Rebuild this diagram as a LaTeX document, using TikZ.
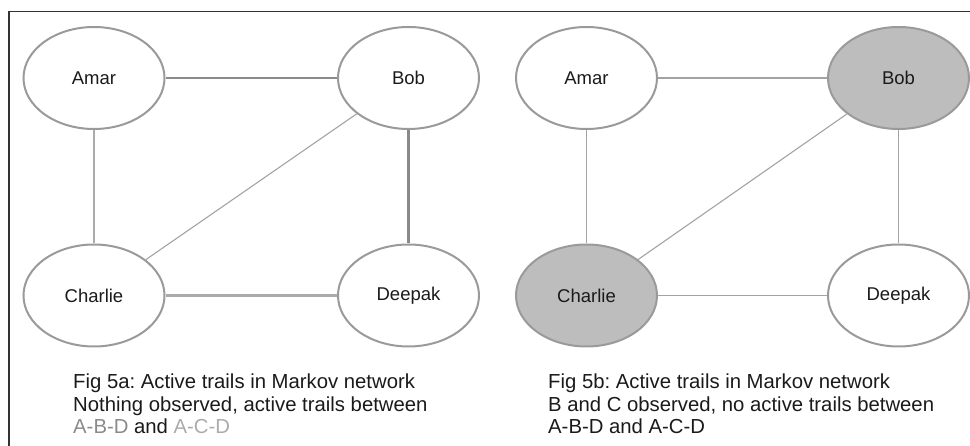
\documentclass[tikz,border=0pt]{standalone}
\usepackage{fontspec}
\setmainfont{Liberation Sans}
\usetikzlibrary{shapes.geometric}
\definecolor{nodeline}{HTML}{9A9A9A}
\definecolor{obsfill}{HTML}{BDBDBD}
\definecolor{trailB}{HTML}{8A8A8A}
\definecolor{trailC}{HTML}{ABABAB}
\definecolor{thinedge}{HTML}{A3A3A3}
\definecolor{txt}{HTML}{1A1A1A}
\frenchspacing
\tikzset{
  person/.style={ellipse, draw=nodeline, line width=2pt, fill=white,
    minimum width=141pt, minimum height=102pt, inner sep=0pt,
    font=\fontsize{18.5}{20}\selectfont, text=txt},
  observed/.style={person, fill=obsfill},
  thickB/.style={draw=trailB, line width=2.6pt},
  thickC/.style={draw=trailC, line width=2.2pt},
  thin/.style={draw=thinedge, line width=1.1pt},
  caption/.style={anchor=base west, inner sep=0pt, text=txt,
    font=\fontsize{20.3}{22}\selectfont},
  frame/.style={draw=black!80, line width=1.2pt}
}
\begin{document}
\begin{tikzpicture}[x=1pt,y=-1pt]
\useasboundingbox (0,0) rectangle (970,446);
\coordinate (fbl) at (9,446);
\coordinate (ftl) at (9,11.5);
\coordinate (ftr) at (970,11.5);
\draw[frame] (fbl) -- (ftl) -- (ftr);

% Panel a
\node[person] (a1) at (94,78) {Amar};
\node[person] (b1) at (408.5,78) {Bob};
\node[person] (c1) at (94,295.5) {Charlie};
\node[person] (d1) at (408.5,295.5) {Deepak};
\draw[thickB] (a1) -- (b1);
\draw[thickB] (b1) -- (d1);
\draw[thickC] (a1) -- (c1);
\draw[thickC] (c1) -- (d1);
\draw[thin] (b1) -- (c1);

\node[caption] (ca1) at (73,389) {Fig 5a: Active trails in Markov network};
\node[caption] (ca2) at (73,412) {Nothing observed, active trails between};
\node[caption] (ca3) at (73,434) {\textcolor{trailB}{A-B-D} and \textcolor{trailC}{A-C-D}};

% Panel b
\node[person] (a2) at (586.5,78) {Amar};
\node[observed] (b2) at (898.5,78) {Bob};
\node[observed] (c2) at (586.5,295.5) {Charlie};
\node[person] (d2) at (898.5,295.5) {Deepak};
\draw[thin] (a2) -- (b2);
\draw[thin] (b2) -- (d2);
\draw[thin] (a2) -- (c2);
\draw[thin] (c2) -- (d2);
\draw[thin] (b2) -- (c2);

\node[caption] (cb1) at (548,389) {Fig 5b: Active trails in Markov network};
\node[caption] (cb2) at (548,412) {B and C observed, no active trails between};
\node[caption] (cb3) at (548,434) {A-B-D and A-C-D};
\end{tikzpicture}
\end{document}
